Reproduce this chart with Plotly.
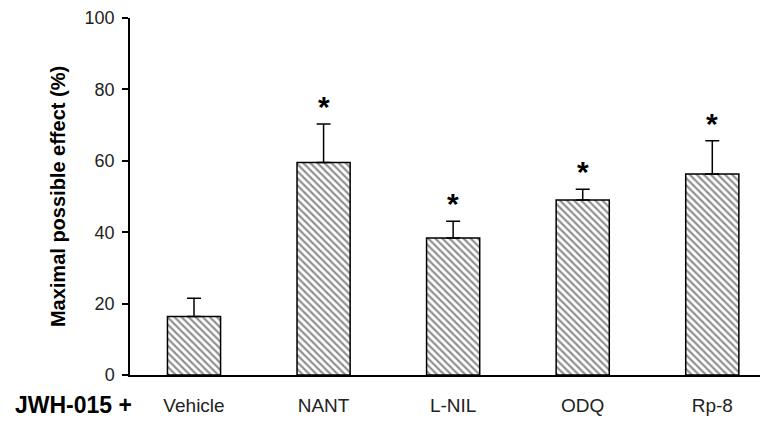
import plotly.graph_objects as go

categories = ["Vehicle", "NANT", "L-NIL", "ODQ", "Rp-8"]
means = [16.4, 59.5, 38.4, 49.0, 56.3]
sem = [5.1, 10.8, 4.7, 3.0, 9.3]
significant = [False, True, True, True, True]
y_ticks = [0, 20, 40, 60, 80, 100]

x_idx = list(range(len(categories)))
FONT = "Liberation Sans, Arial"

fig = go.Figure()
fig.add_trace(go.Bar(
    x=x_idx, y=means, width=0.41,
    marker=dict(
        color="white",
        line=dict(color="black", width=1.5),
        pattern=dict(shape="\\", size=5, solidity=0.45, fgcolor="#222222", bgcolor="white"),
    ),
    error_y=dict(type="data", symmetric=False, array=sem, arrayminus=[0] * len(sem),
                 color="black", thickness=1.5, width=7),
    showlegend=False,
))

for i, (m, s, sig) in enumerate(zip(means, sem, significant)):
    if sig:
        fig.add_annotation(x=i, y=m + s, text="<b>*</b>", showarrow=False,
                           yanchor="bottom", yshift=-1,
                           font=dict(family=FONT, size=30, color="black"))

fig.add_annotation(xref="paper", yref="paper", x=-0.1834, y=0, yshift=-30,
                   xanchor="left", yanchor="middle", text="<b>JWH-015 +</b>", showarrow=False,
                   font=dict(family=FONT, size=23, color="black"))

fig.update_layout(
    width=760, height=414,
    margin=dict(l=122, r=0, t=10, b=47),
    plot_bgcolor="white", paper_bgcolor="white",
    font=dict(family=FONT, color="black"),
    xaxis=dict(
        range=[-0.494, 4.43], tickmode="array", tickvals=x_idx, ticktext=categories,
        showline=True, linecolor="black", linewidth=1.5, ticks="", showgrid=False,
        zeroline=False, tickfont=dict(size=19, color="#222222"), ticklabelstandoff=12,
    ),
    yaxis=dict(
        range=[0, 100], tickmode="array", tickvals=y_ticks,
        showline=True, linecolor="black", linewidth=1.5, ticks="outside", ticklen=6,
        tickwidth=1.5, tickcolor="black", showgrid=False, zeroline=False,
        tickfont=dict(size=18, color="#222222"), ticklabelstandoff=4,
        title=dict(text="<b>Maximal possible effect (%)</b>", font=dict(size=20), standoff=14),
    ),
)

fig.write_html("out.html")
